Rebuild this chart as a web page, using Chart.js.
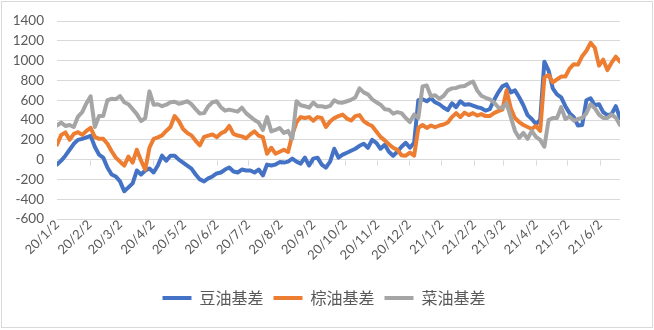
<!DOCTYPE html>
<html>
<head>
<meta charset="utf-8">
<script src="https://cdn.jsdelivr.net/npm/chart.js@4.4.1/dist/chart.umd.min.js"></script>
<style>
  html, body { margin: 0; padding: 0; background: #fff; }
  #wrap { position: relative; width: 654px; height: 330px; }
  #wrap canvas { position: absolute; left: 0; top: 0; }
  #frame { position: absolute; left: 1px; top: 1px; width: 652px; height: 327px; border: 1px solid #d9d9d9; box-sizing: border-box; pointer-events: none; }
</style>
</head>
<body>
<div id="wrap">
  <canvas id="basisChart" width="654" height="330"></canvas>
  <div id="frame"></div>
</div>
<script>
// Tick labels on the date axis (one per month, 2nd of the month)
const tickLabels = ['20/1/2', '20/2/2', '20/3/2', '20/4/2', '20/5/2', '20/6/2', '20/7/2', '20/8/2', '20/9/2',
    '20/10/2', '20/11/2', '20/12/2', '21/1/2', '21/2/2', '21/3/2', '21/4/2', '21/5/2', '21/6/2'];

const seriesNames = ['豆油基差', '棕油基差', '菜油基差'];

// Values, one every 4 calendar days from 2020/1/2
const sampleStep = 4;

const soyBasis = [
    -50, -10, 40, 100, 160, 200, 210, 225, 240, 130,
    50, 20, -80, -150, -170, -220, -320, -280, -240, -110,
    -150, -110, -90, -130, -60, 40, -10, 40, 40, 0,
    -30, -60, -90, -150, -200, -220, -190, -170, -140, -130,
    -100, -80, -120, -130, -100, -110, -110, -130, -100, -160,
    -50, -60, -50, -25, -30, -20, 10, -20, -40, 20,
    -60, 10, 20, -50, -80, -20, 110, 20, 50, 70,
    90, 110, 140, 160, 120, 200, 170, 110, 150, 80,
    40, 80, 130, 170, 120, 170, 600, 610, 590, 620,
    580, 560, 527, 500, 570, 530, 590, 555, 560, 545,
    530, 520, 495, 510, 600, 677, 740, 760, 680, 700,
    630, 550, 450, 410, 360, 400, 990, 900, 720, 660,
    630, 540, 470, 430, 345, 350, 600, 620, 550, 560,
    480, 450, 460, 540, 420
];

const palmBasis = [
    150, 250, 275, 200, 260, 277, 250, 290, 320, 230,
    210, 210, 160, 85, 20, -20, -60, 30, -30, 100,
    -10, -100, 120, 210, 225, 245, 290, 330, 440, 390,
    310, 270, 245, 190, 145, 230, 243, 255, 227, 265,
    285, 340, 260, 243, 235, 215, 255, 285, 243, 227,
    60, 120, 60, 80, 100, 77, 250, 377, 430, 420,
    430, 393, 430, 420, 330, 385, 420, 440, 455, 415,
    395, 440, 450, 390, 360, 340, 285, 230, 195, 155,
    120, 100, 45, 40, 70, 40, 320, 350, 320, 345,
    327, 345, 355, 375, 430, 470, 430, 475, 450, 470,
    445, 460, 440, 440, 470, 490, 505, 700, 520, 420,
    380, 350, 330, 310, 340, 290, 830, 855, 780, 810,
    840, 840, 920, 965, 960, 1045, 1100, 1180, 1130, 950,
    1010, 905, 980, 1040, 990
];

const rapeBasis = [
    345, 375, 340, 350, 330, 435, 480, 570, 640, 330,
    440, 440, 600, 615, 610, 643, 580, 560, 510, 460,
    390, 420, 690, 555, 560, 540, 555, 580, 585, 565,
    575, 590, 560, 510, 465, 470, 540, 580, 590, 530,
    495, 505, 495, 485, 525, 470, 435, 400, 375, 300,
    430, 285, 300, 320, 270, 290, 210, 590, 550, 540,
    525, 577, 540, 540, 530, 543, 600, 577, 575, 590,
    605, 628, 720, 680, 660, 610, 580, 555, 510, 505,
    465, 480, 470, 420, 380, 455, 420, 740, 750, 640,
    650, 615, 643, 700, 720, 725, 740, 745, 770, 790,
    700, 645, 625, 610, 580, 530, 520, 570, 430, 290,
    220, 270, 210, 290, 230, 200, 130, 400, 420, 420,
    530, 410, 435, 395, 410, 420, 470, 560, 520, 455,
    420, 420, 455, 425, 350
];

const seriesColors = ['#4472C4', '#ED7D31', '#A5A5A5'];

// days since 2020/1/2 for a "yy/m/d" label
function dayOf(label) {
    const [y, m, d] = label.split('/').map(Number);
    return Math.round((Date.UTC(2000 + y, m - 1, d) - Date.UTC(2020, 0, 2)) / 86400000);
}

const tickDays = tickLabels.map(dayOf);

function toPoints(values) {
    return values.map((v, i) => ({ x: i * sampleStep, y: v }));
}

// small tick marks hanging under the zero line, like the Excel axis
const zeroLineTicks = {
    id: 'zeroLineTicks',
    beforeDatasetsDraw(chart) {
        const { ctx, scales: { x, y } } = chart;
        const y0 = Math.round(y.getPixelForValue(0)) + 0.5;
        ctx.save();
        ctx.strokeStyle = '#d9d9d9';
        ctx.lineWidth = 1;
        tickDays.forEach(d => {
            const px = Math.round(x.getPixelForValue(d)) + 0.5;
            ctx.beginPath();
            ctx.moveTo(px, y0);
            ctx.lineTo(px, y0 + 5);
            ctx.stroke();
        });
        ctx.restore();
    }
};

// centre the legend on the whole frame instead of the padded area
const legendShift = {
    id: 'legendShift',
    afterLayout(chart) {
        const shift = chart.options.layout.padding.right / 2 - 3;
        chart.legend.left += shift;
        chart.legend.right += shift;
    }
};

const allSeries = [soyBasis, palmBasis, rapeBasis];

new Chart(document.getElementById('basisChart'), {
    type: 'line',
    data: {
        datasets: allSeries.map((values, i) => ({
            label: seriesNames[i],
            data: toPoints(values),
            borderColor: seriesColors[i],
            backgroundColor: seriesColors[i],
            borderWidth: 4,
            pointRadius: 0,
            tension: 0,
            borderJoinStyle: 'round',
            borderCapStyle: 'round',
            order: 3 - i
        }))
    },
    options: {
        responsive: false,
        animation: false,
        events: [],
        layout: { padding: { top: 18, right: 34, bottom: 14, left: 0 } },
        plugins: {
            tooltip: { enabled: false },
            legend: {
                position: 'bottom',
                labels: {
                    usePointStyle: true,
                    pointStyle: 'line',
                    pointStyleWidth: 29,
                    padding: 10,
                    color: '#595959',
                    font: { family: "'Noto Sans CJK SC', sans-serif", size: 16 },
                    sort: (a, b) => a.datasetIndex - b.datasetIndex
                }
            }
        },
        scales: {
            x: {
                type: 'linear',
                min: 0,
                max: (soyBasis.length - 1) * sampleStep,
                afterBuildTicks: axis => {
                    axis.ticks = tickDays.map(d => ({ value: d }));
                },
                afterFit: scale => { scale.height = 61; },
                grid: { display: false, drawTicks: false },
                border: { display: false },
                ticks: {
                    autoSkip: false,
                    minRotation: 45,
                    maxRotation: 45,
                    padding: -2,
                    color: '#595959',
                    font: { family: 'Lato, sans-serif', size: 13 },
                    callback: (value, index) => tickLabels[index]
                }
            },
            y: {
                min: -600,
                max: 1400,
                afterFit: scale => { scale.width = 57; },
                grid: { color: '#d9d9d9', lineWidth: 1, drawTicks: false },
                border: { display: false },
                ticks: {
                    stepSize: 200,
                    padding: 13,
                    color: '#595959',
                    font: { family: 'Lato, sans-serif', size: 13.5 },
                    callback: value => String(value)
                }
            }
        }
    },
    plugins: [zeroLineTicks, legendShift]
});
</script>
</body>
</html>
